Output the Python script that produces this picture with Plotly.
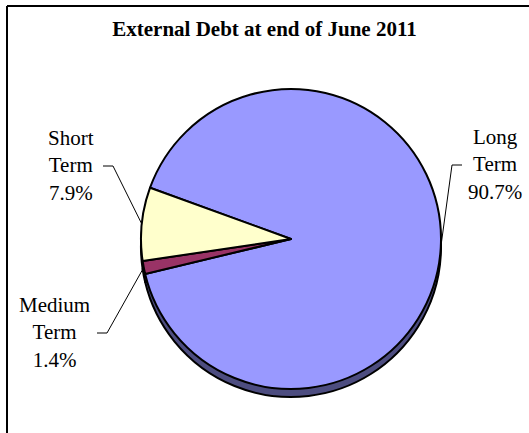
import math
import plotly.graph_objects as go

# Debt maturity shares (% of total external debt)
categories = ["Long Term", "Medium Term", "Short Term"]
shares = [90.7, 1.4, 7.9]
face_colors = ["#9999FF", "#993366", "#FFFFCC"]
rim_colors = ["#4D4D80", "#4C1A33", "#808066"]
title_text = "External Debt at end of June 2011"

W, H = 529, 433
CX, CY, R = 291, 239, 150          # pie centre and radius in pixels
DEPTH = 8                           # thickness of the pie rim
START = 160                         # math angle (deg) where the first slice begins


def px(x, y):
    return x / W, 1 - y / H


def domain(dy=0):
    x0, y0 = px(CX - R, CY + R + dy)
    x1, y1 = px(CX + R, CY - R + dy)
    return dict(x=[x0, x1], y=[y0, y1])


fig = go.Figure()

# darker copy drawn a few pixels lower gives the pie its rim
fig.add_trace(go.Pie(
    labels=categories, values=shares, sort=False, direction="clockwise",
    rotation=90 - START, domain=domain(DEPTH), textinfo="none", hoverinfo="skip",
    marker=dict(colors=rim_colors, line=dict(color="black", width=2)),
    showlegend=False,
))
fig.add_trace(go.Pie(
    labels=categories, values=shares, sort=False, direction="clockwise",
    rotation=90 - START, domain=domain(), textinfo="none",
    marker=dict(colors=face_colors, line=dict(color="black", width=2)),
    showlegend=False,
))

# label anchors (pixel centre) and the side the leader leaves from
label_pos = {"Long Term": (495, 164, -1), "Medium Term": (54, 332, 1), "Short Term": (71, 165, 1)}
leader_start = {"Long Term": 462, "Medium Term": 97, "Short Term": 103}

total = sum(shares)
angle = START
for name, val in zip(categories, shares):
    sweep = 360 * val / total
    mid = math.radians(angle - sweep / 2)
    angle -= sweep
    ex, ey = CX + R * math.cos(mid), CY - R * math.sin(mid)
    lx, ly, side = label_pos[name]
    pct = f"{val:.1f}%"
    fig.add_annotation(
        x=px(lx, ly)[0], y=px(lx, ly)[1], xref="paper", yref="paper",
        text=name.replace(" ", "<br>") + "<br>" + pct, showarrow=False,
        xanchor="center", yanchor="middle", align="center",
        font=dict(family="Liberation Serif", size=21, color="black"),
    )
    sx = leader_start[name]
    kx = sx + side * 10
    p0, p1, p2 = px(sx, ly + 1), px(kx, ly + 1), px(ex, ey)
    fig.add_shape(
        type="path", xref="paper", yref="paper",
        path=f"M {p0[0]},{p0[1]} L {p1[0]},{p1[1]} L {p2[0]},{p2[1]}",
        line=dict(color="black", width=1),
    )

# chart frame
fig.add_shape(type="line", xref="paper", yref="paper",
              x0=7 / W, x1=7 / W, y0=-0.05, y1=1 - 6 / H,
              line=dict(color="black", width=2))
fig.add_shape(type="line", xref="paper", yref="paper",
              x0=7 / W, x1=1.05, y0=1 - 6 / H, y1=1 - 6 / H,
              line=dict(color="black", width=2))

fig.update_layout(
    width=W, height=H,
    margin=dict(l=0, r=0, t=0, b=0),
    paper_bgcolor="white", plot_bgcolor="white",
    title=dict(text=f"<b>{title_text}</b>", x=264.5 / W, y=1 - 29 / H,
               xanchor="center", yanchor="middle",
               font=dict(family="Liberation Serif", size=21, color="black")),
)

fig.write_html("out.html")
